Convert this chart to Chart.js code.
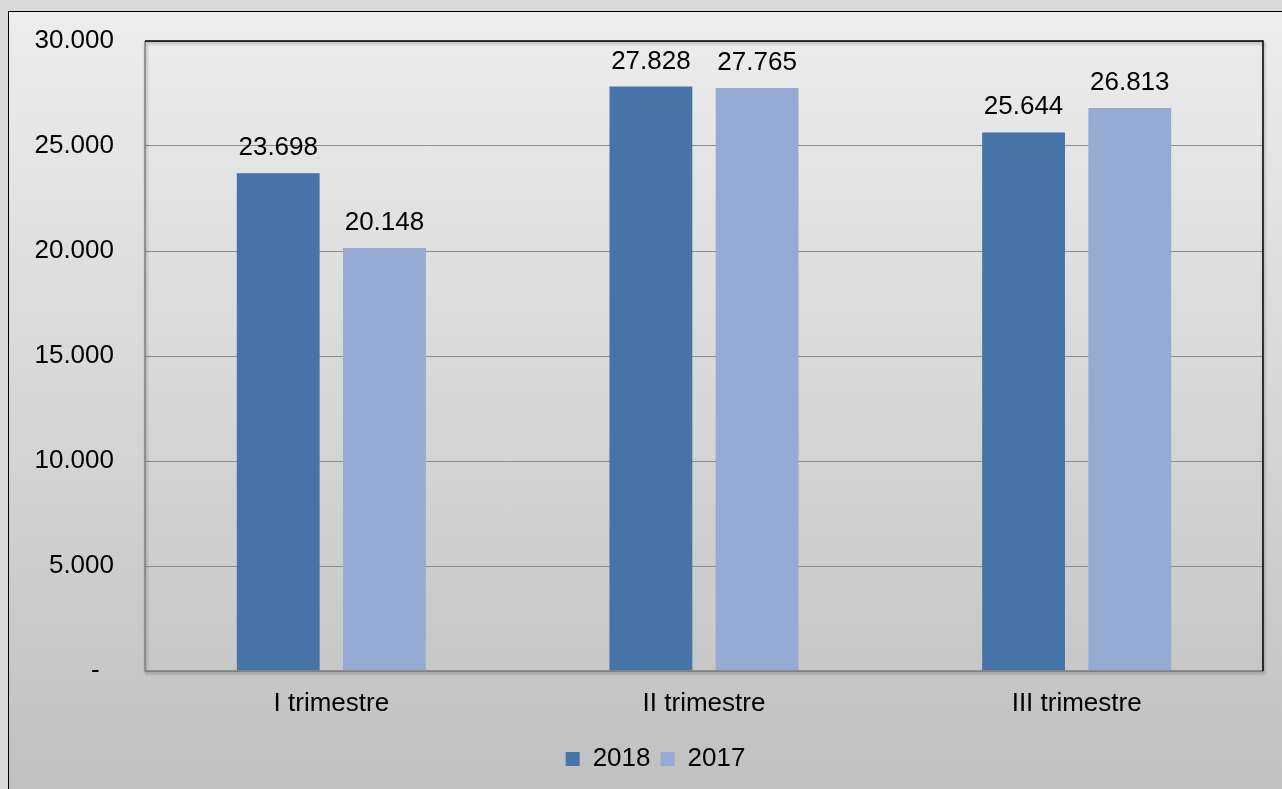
<!DOCTYPE html>
<html>
<head>
<meta charset="utf-8">
<script src="https://cdn.jsdelivr.net/npm/chart.js@4.4.1/dist/chart.umd.min.js"></script>
<style>
  html, body { margin: 0; padding: 0; background: #dadada; overflow: hidden; }
  #frame {
    position: absolute; left: 8px; top: 11px; width: 1300px; height: 800px;
    border: 1px solid #000;
    background: linear-gradient(to bottom, #ededed 0%, #d6d6d6 50%, #bfbfbf 100%);
  }
  #wrap { position: absolute; left: 0; top: 0; width: 1282px; height: 789px; }
</style>
</head>
<body>
<div id="frame"></div>
<div id="wrap"><canvas id="chart" width="1282" height="789"></canvas></div>
<script>
  const quarters = ["I trimestre", "II trimestre", "III trimestre"];
  const values2018 = [23698, 27828, 25644];
  const values2017 = [20148, 27765, 26813];
  const yTicks = [0, 5000, 10000, 15000, 20000, 25000, 30000];

  const FONT = "Liberation Sans, Arial, sans-serif";

  function fmt(v) {
    if (v === 0) return "-  ";
    return String(v).replace(/\B(?=(\d{3})+(?!\d))/g, ".");
  }

  // value labels above each bar
  const barLabels = {
    id: "barLabels",
    afterDatasetsDraw(chart) {
      const ctx = chart.ctx;
      ctx.save();
      ctx.font = "26px " + FONT;
      ctx.fillStyle = "#000";
      ctx.textAlign = "center";
      ctx.textBaseline = "alphabetic";
      chart.data.datasets.forEach(function (ds, i) {
        chart.getDatasetMeta(i).data.forEach(function (bar, j) {
          ctx.fillText(fmt(ds.data[j]), bar.x, bar.y - 18);
        });
      });
      ctx.restore();
    }
  };

  // plot frame: gray left/bottom, black top/right, soft shadow
  const plotFrame = {
    id: "plotFrame",
    afterDatasetsDraw(chart) {
      const a = chart.chartArea;
      const ctx = chart.ctx;
      ctx.save();
      ctx.shadowColor = "rgba(0,0,0,0.35)";
      ctx.shadowBlur = 3;
      ctx.shadowOffsetX = 1;
      ctx.shadowOffsetY = 2;
      ctx.lineWidth = 1.5;
      ctx.strokeStyle = "#808080";
      ctx.beginPath();
      ctx.moveTo(a.left, a.top);
      ctx.lineTo(a.left, a.bottom);
      ctx.lineTo(a.right, a.bottom);
      ctx.stroke();
      ctx.strokeStyle = "#000";
      ctx.beginPath();
      ctx.moveTo(a.left, a.top);
      ctx.lineTo(a.right, a.top);
      ctx.lineTo(a.right, a.bottom);
      ctx.stroke();
      ctx.restore();
    }
  };

  // nudge the legend block to the right of the page centre
  const legendShift = {
    id: "legendShift",
    afterLayout(chart) {
      if (chart.legend) {
        chart.legend.left += 24;
        chart.legend.right += 24;
      }
    }
  };

  new Chart(document.getElementById("chart"), {
    type: "bar",
    data: {
      labels: quarters,
      datasets: [
        { label: "2018", data: values2018, backgroundColor: "#4674A8" },
        { label: "2017", data: values2017, backgroundColor: "#95ABD3" }
      ]
    },
    options: {
      responsive: false,
      animation: false,
      devicePixelRatio: 1,
      datasets: { bar: { categoryPercentage: 0.57, barPercentage: 0.78 } },
      layout: { padding: { left: 0, right: 19, top: 41, bottom: 7 } },
      plugins: {
        tooltip: { enabled: false },
        legend: {
          position: "bottom",
          labels: {
            font: { family: FONT, size: 26 },
            color: "#000",
            boxWidth: 14,
            boxHeight: 14,
            padding: 10
          }
        }
      },
      scales: {
        x: {
          grid: { display: false },
          border: { display: false },
          ticks: { font: { family: FONT, size: 26 }, color: "#000", padding: 9 },
          afterFit(scale) { scale.height = 65; }
        },
        y: {
          min: 0,
          max: 30000,
          afterBuildTicks(scale) { scale.ticks = yTicks.map(function (v) { return { value: v }; }); },
          grid: { color: "#8c8c8c", lineWidth: 1, drawTicks: false },
          border: { display: false },
          ticks: {
            font: { family: FONT, size: 26 },
            color: "#000",
            padding: 31,
            callback: function (v) { return fmt(v); }
          },
          afterFit(scale) {
            scale.width = 145;
            scale.paddingTop = 0;
            scale.paddingBottom = 0;
          }
        }
      }
    },
    plugins: [barLabels, plotFrame, legendShift]
  });
</script>
</body>
</html>
